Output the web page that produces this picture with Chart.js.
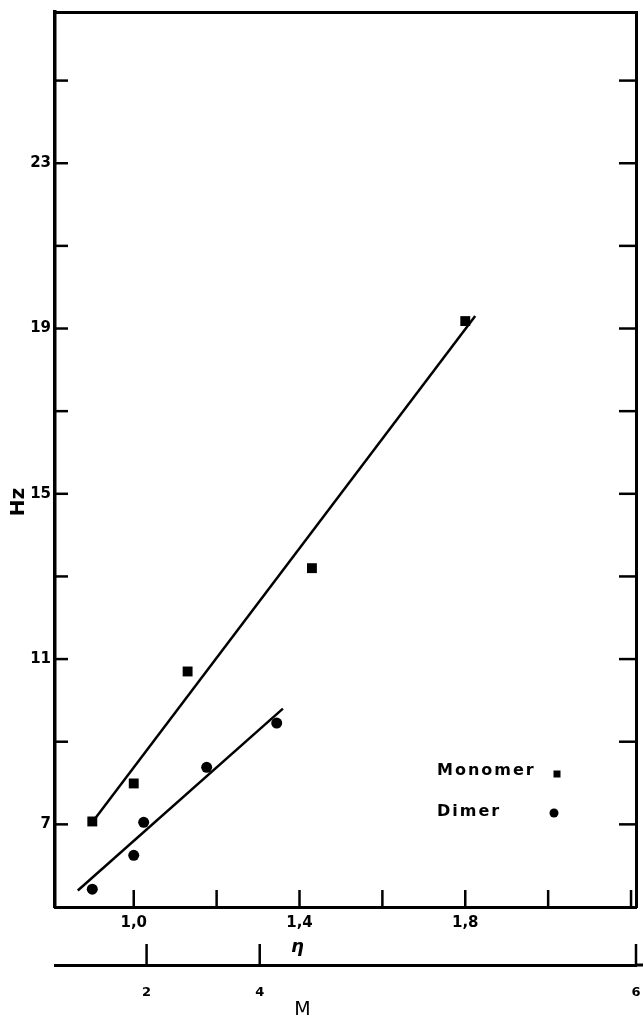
<!DOCTYPE html>
<html><head><meta charset="utf-8">
<script src="https://cdn.jsdelivr.net/npm/chart.js@4/dist/chart.umd.min.js"></script>
<style>html,body{margin:0;padding:0;background:#fff}canvas{display:block}</style>
</head><body>
<canvas id="c" width="643" height="1017"></canvas>
<script>
// ---- data ----
const etaTickValues = [1.0, 1.2, 1.4, 1.6, 1.8, 2.0, 2.2];
const etaTickLabels = ['1,0', '', '1,4', '', '1,8', '', ''];
const hzTickValues = [7, 9, 11, 13, 15, 17, 19, 21, 23, 25];
const hzTickLabels = ['7', '', '11', '', '15', '', '19', '', '23', ''];
const mTickLabels = ['2', '4', '6'];
const mTickEta = [1.031, 1.304, 2.212];
const monomerEta = [0.90, 1.00, 1.13, 1.43, 1.80];
const monomerHz = [7.07, 7.99, 10.70, 13.20, 19.18];
const dimerEta = [0.90, 1.00, 1.024, 1.176, 1.345];
const dimerHz = [5.43, 6.25, 7.05, 8.38, 9.45];
const monomerFitEta = [0.90, 1.824];
const monomerFitHz = [7.05, 19.30];
const dimerFitEta = [0.865, 1.36];
const dimerFitHz = [5.40, 9.80];
const etaRange = [0.81, 2.212];
const hzRange = [5, 26.66];

const pts = (xs, ys) => xs.map((x, i) => ({x: x, y: ys[i]}));
const FONT = 'DejaVu Sans';
const noPad = s => { s.paddingLeft = 0; s.paddingRight = 0; s.paddingTop = 0; s.paddingBottom = 0; };

const decor = {
  id: 'decor',
  afterDraw(chart) {
    const ctx = chart.ctx, ca = chart.chartArea;
    const sx = chart.scales.x, sy = chart.scales.y, sm = chart.scales.x3;
    ctx.save();
    ctx.strokeStyle = '#000';
    ctx.fillStyle = '#000';
    ctx.lineWidth = 2.5;
    const line = (a, b, c, d) => { ctx.beginPath(); ctx.moveTo(a, b); ctx.lineTo(c, d); ctx.stroke(); };
    etaTickValues.forEach(v => { const p = sx.getPixelForValue(v); line(p, ca.bottom, p, ca.bottom - 17); });
    hzTickValues.forEach(v => { const p = sy.getPixelForValue(v); line(ca.left, p, ca.left + 13, p); line(ca.right, p, ca.right - 17, p); });
    mTickEta.forEach(v => { const p = sm.getPixelForValue(v); line(p, sm.top, p, sm.top - 21); });
    ctx.lineWidth = 3;
    line(ca.right, sm.top, chart.width, sm.top);
    // axis titles
    ctx.textAlign = 'center';
    ctx.textBaseline = 'middle';
    ctx.font = 'bold italic 18px "' + FONT + '"';
    ctx.fillText('\u03B7', sx.getPixelForValue(1.4) - 2, sx.top + 40);
    ctx.font = '19px "' + FONT + '"';
    ctx.fillText('M', sx.getPixelForValue(1.4) + 3, sm.top + 45);
    ctx.save();
    ctx.translate(19, sy.getPixelForValue(14.8));
    ctx.rotate(-Math.PI / 2);
    ctx.font = 'bold 20px "' + FONT + '"';
    ctx.fillText('Hz', 0, 0);
    ctx.restore();
    // legend
    ctx.textAlign = 'left';
    ctx.font = 'bold 16px "' + FONT + '"';
    ctx.letterSpacing = '2px';
    const ds = chart.data.datasets;
    ctx.fillText(ds[0].label, 437, 771);
    ctx.fillText(ds[1].label, 437, 812);
    ctx.letterSpacing = '0px';
    ctx.fillRect(557 - 3.5, 774 - 3.5, 7, 7);
    ctx.beginPath(); ctx.arc(554, 813, 4.5, 0, Math.PI * 2); ctx.fill();
    ctx.restore();
  }
};

const tickFont = {family: FONT, weight: 'bold', size: 15};
new Chart(document.getElementById('c'), {
  type: 'scatter',
  data: {
    datasets: [
      {label: 'Monomer', data: pts(monomerEta, monomerHz), pointStyle: 'rect', pointRadius: 7, backgroundColor: '#000', borderColor: '#000', borderWidth: 0},
      {label: 'Dimer', data: pts(dimerEta, dimerHz), pointStyle: 'circle', pointRadius: 5.5, backgroundColor: '#000', borderColor: '#000', borderWidth: 0},
      {label: 'Monomer fit', data: pts(monomerFitEta, monomerFitHz), showLine: true, pointRadius: 0, borderColor: '#000', borderWidth: 2.5},
      {label: 'Dimer fit', data: pts(dimerFitEta, dimerFitHz), showLine: true, pointRadius: 0, borderColor: '#000', borderWidth: 2.5}
    ]
  },
  options: {
    responsive: false,
    animation: false,
    devicePixelRatio: 1,
    layout: {padding: 0},
    plugins: {legend: {display: false}, tooltip: {enabled: false}},
    scales: {
      x: {
        type: 'linear', position: 'bottom', weight: 0, min: etaRange[0], max: etaRange[1],
        afterBuildTicks: s => { s.ticks = etaTickValues.map(v => ({value: v})); },
        afterFit: s => { s.height = 58; noPad(s); },
        grid: {display: false, drawTicks: false},
        border: {display: true, width: 3, color: '#000'},
        ticks: {callback: (v, i) => etaTickLabels[i], font: tickFont, color: '#000', padding: 7, autoSkip: false, maxRotation: 0}
      },
      x3: {
        type: 'linear', position: 'bottom', weight: 1, min: etaRange[0], max: etaRange[1],
        afterBuildTicks: s => { s.ticks = mTickEta.map(v => ({value: v})); },
        afterFit: s => { s.height = 52; noPad(s); },
        grid: {display: false, drawTicks: false},
        border: {display: true, width: 3, color: '#000'},
        ticks: {callback: (v, i) => mTickLabels[i], font: {family: FONT, weight: 'bold', size: 13}, color: '#000', padding: 20, autoSkip: false, maxRotation: 0}
      },
      x2: {
        type: 'linear', position: 'top', min: etaRange[0], max: etaRange[1],
        afterFit: s => { s.height = 12; noPad(s); },
        grid: {display: false, drawTicks: false},
        border: {display: true, width: 3, color: '#000'},
        ticks: {display: false}
      },
      y: {
        type: 'linear', position: 'left', min: hzRange[0], max: hzRange[1],
        afterBuildTicks: s => { s.ticks = hzTickValues.map(v => ({value: v})); },
        afterFit: s => { s.width = 55; noPad(s); },
        grid: {display: false, drawTicks: false},
        border: {display: true, width: 3.5, color: '#000'},
        ticks: {callback: (v, i) => hzTickLabels[i], font: tickFont, color: '#000', padding: 4, autoSkip: false}
      },
      y2: {
        type: 'linear', position: 'right', min: hzRange[0], max: hzRange[1],
        afterFit: s => { s.width = 7; noPad(s); },
        grid: {display: false, drawTicks: false},
        border: {display: true, width: 3, color: '#000'},
        ticks: {display: false}
      }
    }
  },
  plugins: [decor]
});
</script>
</body></html>
